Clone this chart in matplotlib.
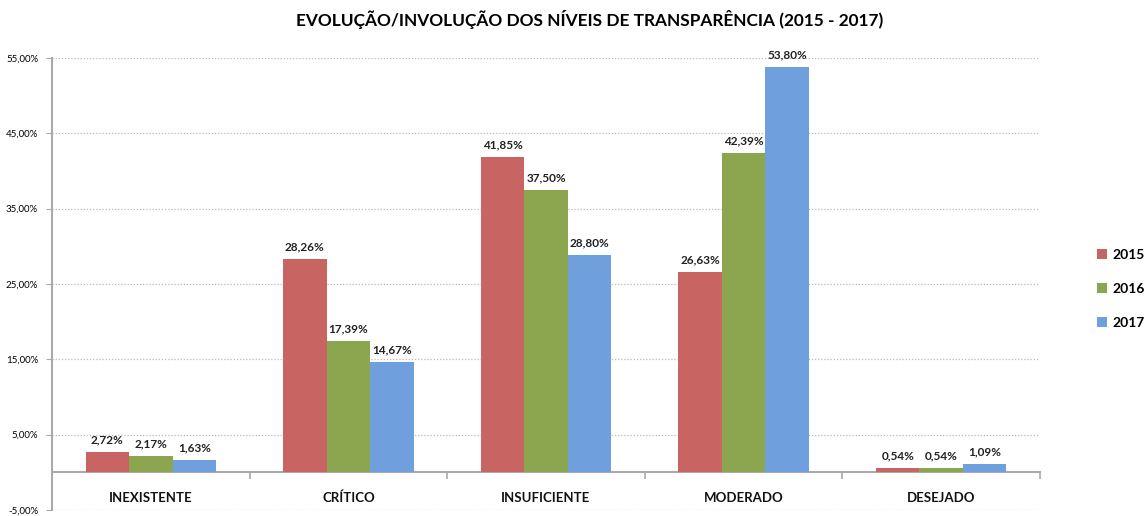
import numpy as np
import matplotlib.pyplot as plt
from matplotlib.ticker import FuncFormatter, FixedLocator

plt.rcParams['font.family'] = ['Lato', 'DejaVu Sans']

categorias = ["INEXISTENTE", "CRÍTICO", "INSUFICIENTE", "MODERADO", "DESEJADO"]
anos = ["2015", "2016", "2017"]
v2015 = [2.72, 28.26, 41.85, 26.63, 0.54]
v2016 = [2.17, 17.39, 37.50, 42.39, 0.54]
v2017 = [1.63, 14.67, 28.80, 53.80, 1.09]
cores = ["#c86462", "#8ba64e", "#6f9fdc"]

fig = plt.figure(figsize=(11.48, 5.16), dpi=100)
ax = fig.add_axes([0.0453, 0.0116, 0.8606, 0.876])

# eixos primeiro (set_position reinicia os ticks)
ax.spines["bottom"].set_position(("data", 0))
ax.spines["bottom"].set_color("#aaaaaa")
ax.spines["bottom"].set_linewidth(1.5)
ax.spines["left"].set_color("#aaaaaa")
ax.spines["left"].set_linewidth(1.5)
ax.spines["top"].set_visible(False)
ax.spines["right"].set_visible(False)

x = np.arange(len(categorias))
w = 0.22
for i, (serie, cor, ano) in enumerate(zip([v2015, v2016, v2017], cores, anos)):
    pos = x + (i - 1) * w
    barras = ax.bar(pos, serie, w, color=cor, label=ano, zorder=3)
    for b, v in zip(barras, serie):
        ax.text(b.get_x() + b.get_width() / 2, v + 0.9, f"{v:.2f}%".replace(".", ","),
                ha="center", va="bottom", fontsize=8.5, fontweight="bold", color="#222222")

ax.set_xlim(-0.5, 4.5)
ax.set_ylim(-5, 55)
ax.set_yticks(np.arange(-5, 56, 10))
ax.yaxis.set_major_formatter(FuncFormatter(lambda v, p: f"{v:.2f}%".replace(".", ",")))
ax.tick_params(axis="y", labelsize=7, length=4, color="#aaaaaa", pad=6)
ax.grid(axis="y", linestyle=(0, (1, 1.5)), color="#bbbbbb", linewidth=0.9, zorder=0)

ax.set_xticks(x)
ax.xaxis.set_minor_locator(FixedLocator(np.arange(-0.5, 4.6, 1)))
ax.tick_params(axis="x", which="major", length=0, pad=14)
ax.tick_params(axis="x", which="minor", length=5, color="#aaaaaa", width=1.2)
ax.set_xticklabels(categorias, fontsize=9.5, fontweight="bold", color="#111111")

fig.text(0.514, 0.962, "EVOLUÇÃO/INVOLUÇÃO DOS NÍVEIS DE TRANSPARÊNCIA (2015 - 2017)",
         ha="center", va="center", fontsize=12.4, fontweight="bold")

leg = fig.legend(loc="center left", bbox_to_anchor=(0.945, 0.44), frameon=False,
                 prop={"weight": "bold", "size": 10}, handlelength=0.7, handleheight=0.7,
                 labelspacing=1.6, handletextpad=0.4)

fig.savefig("out.png", dpi=100)
